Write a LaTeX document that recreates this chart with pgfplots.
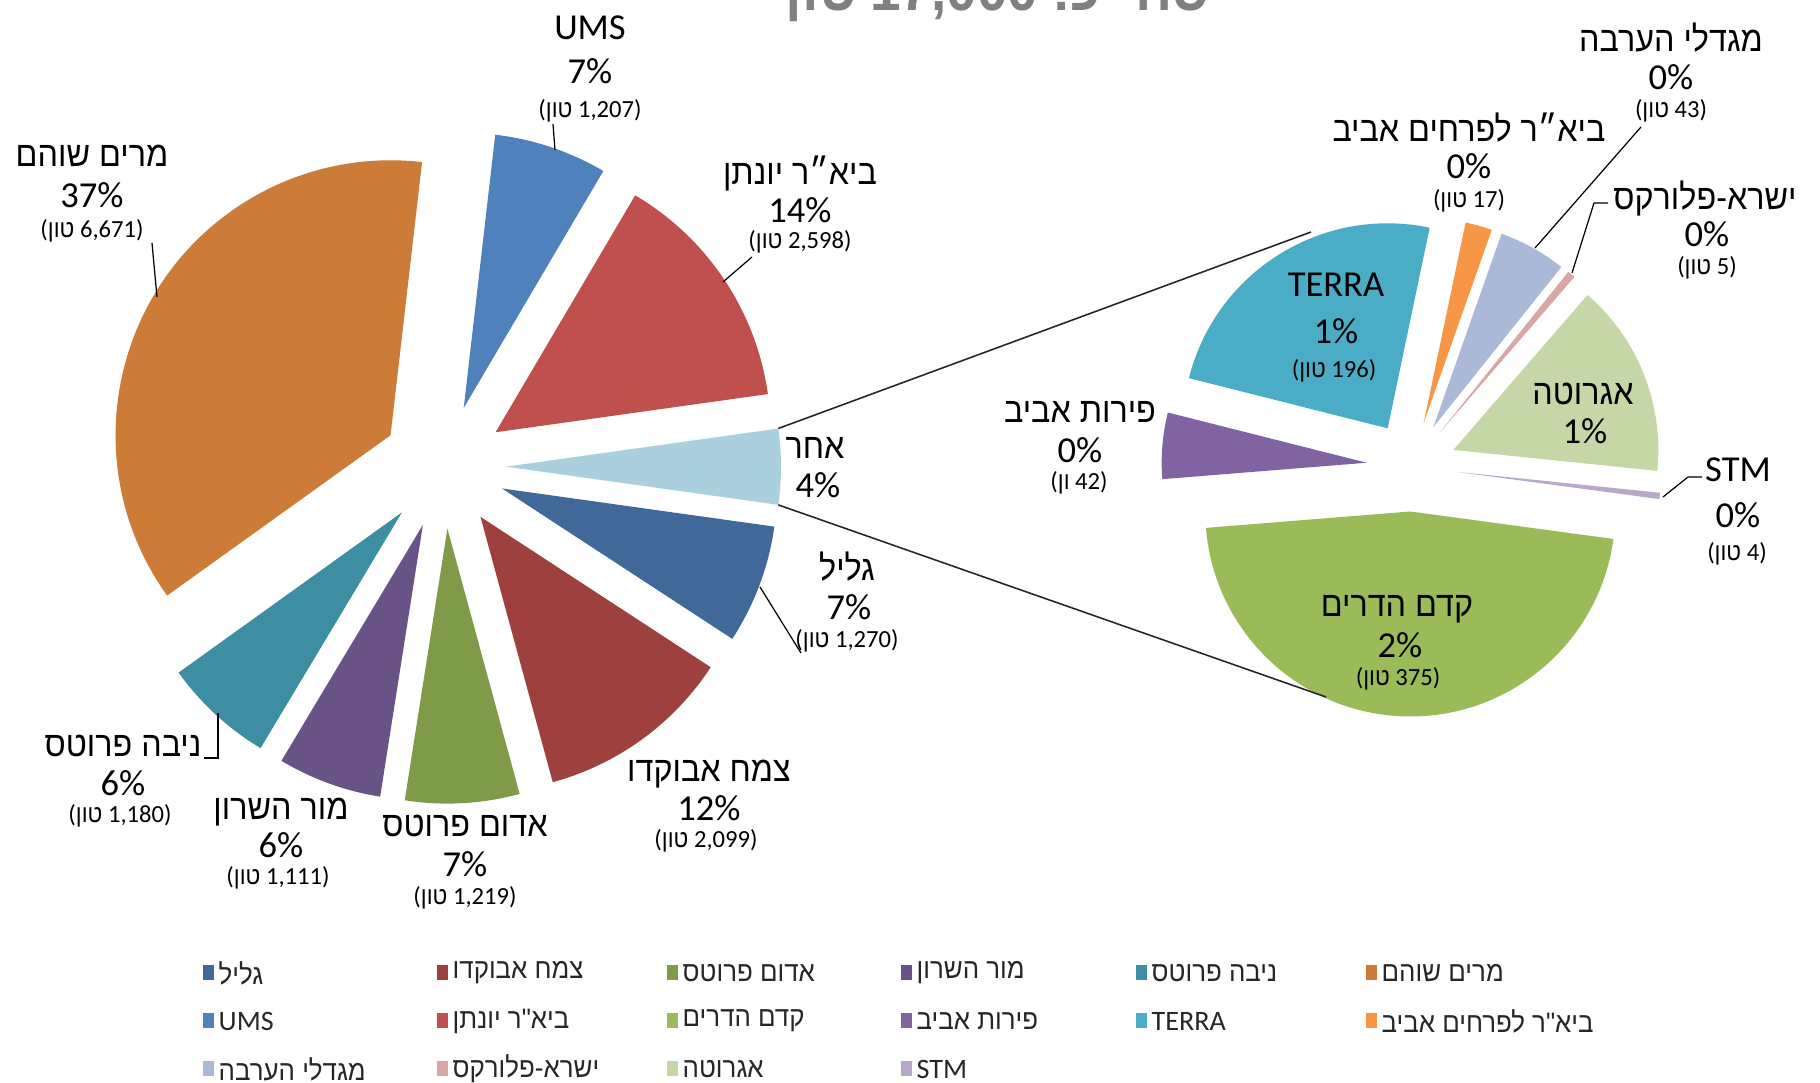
\documentclass[border=0pt]{standalone}
\usepackage{fontspec}
\setmainfont{Carlito}
\newfontfamily\heb[Script=Hebrew, FakeStretch=0.92]{Liberation Sans}
\TeXXeTstate=1
\usepackage{pgfplots}
\usepackage{pgfplotstable}
\pgfplotsset{compat=1.18}

\definecolor{cGalil}{HTML}{406899}
\definecolor{cTzemach}{HTML}{9E403D}
\definecolor{cAdom}{HTML}{7F9A48}
\definecolor{cMor}{HTML}{685286}
\definecolor{cNiva}{HTML}{3D8DA3}
\definecolor{cMerim}{HTML}{CC7B38}
\definecolor{cUMS}{HTML}{4F81BD}
\definecolor{cBiarY}{HTML}{C0504D}
\definecolor{cOther}{HTML}{AACFDD}
\definecolor{cKedem}{HTML}{9BBB59}
\definecolor{cPeirot}{HTML}{8064A2}
\definecolor{cTerra}{HTML}{4BACC6}
\definecolor{cBiarP}{HTML}{F79646}
\definecolor{cMigdal}{HTML}{AAB9D7}
\definecolor{cIsra}{HTML}{D9A6A5}
\definecolor{cAgro}{HTML}{C5D7A7}
\definecolor{cSTM}{HTML}{B8A9CA}
\definecolor{titlegray}{HTML}{808080}
\definecolor{legtext}{HTML}{262626}

\newcommand{\R}[1]{{\heb\beginR #1\endR}}
\newcommand{\namefont}{\fontsize{10}{12}\selectfont}
\newcommand{\pctfont}{\fontsize{10.4}{12}\selectfont}
\newcommand{\tonfont}{\fontsize{7}{8}\selectfont}
\newcommand{\legfont}{\fontsize{8}{9}\selectfont}

% main pie, clockwise from the lower edge of the "other" slice
\pgfplotstableread{
tons  colour
1270  cGalil
2099  cTzemach
1219  cAdom
1111  cMor
1180  cNiva
6671  cMerim
1207  cUMS
2598  cBiarY
805   cOther
}\mainpie
% secondary pie: breakdown of "other", clockwise
\pgfplotstableread{
tons colour
375  cKedem
42   cPeirot
196  cTerra
17   cBiarP
43   cMigdal
5    cIsra
123  cAgro
4    cSTM
}\otherpie

% #1 table, #2 cx, #3 cy, #4 radius, #5 explosion, #6 start angle expression
\newcommand{\drawpie}[6]{%
  \pgfplotstablegetrowsof{#1}\pgfmathtruncatemacro\nlast{\pgfplotsretval-1}%
  \def\pietot{0}%
  \pgfplotsforeachungrouped \i in {0,...,\nlast}{%
    \pgfplotstablegetelem{\i}{tons}\of{#1}%
    \pgfmathsetmacro\pietot{\pietot+\pgfplotsretval/1000}}%
  \pgfplotstablegetelem{\nlast}{tons}\of{#1}\pgfmathsetmacro\pielast{\pgfplotsretval/1000}%
  \pgfmathsetmacro\piecur{#6}%
  \pgfplotsforeachungrouped \i in {0,...,\nlast}{%
    \pgfplotstablegetelem{\i}{tons}\of{#1}%
    \pgfmathsetmacro\piespan{\pgfplotsretval/1000/\pietot*360}%
    \pgfplotstablegetelem{\i}{colour}\of{#1}%
    \edef\piecol{\pgfplotsretval}%
    \pgfmathsetmacro\pieend{\piecur-\piespan}%
    \pgfmathsetmacro\piemid{\piecur-\piespan/2}%
    \pgfmathsetmacro\pax{#2+#5*cos(\piemid)}%
    \pgfmathsetmacro\pay{#3-#5*sin(\piemid)}%
    \pgfmathsetmacro\pbx{\pax+#4*cos(\piecur)}%
    \pgfmathsetmacro\pby{\pay-#4*sin(\piecur)}%
    \path[fill=\piecol] (axis cs:\pax,\pay) -- (axis cs:\pbx,\pby)
       arc[start angle=\piecur, end angle=\pieend, radius=#4*0.1mm] -- cycle;%
    \let\piecur\pieend
  }%
}

% label line helpers: x, baseline y, text
\newcommand{\nm}[3]{\node[anchor=base, inner sep=0, font=\namefont] at (axis cs:#1,#2) {#3};}
\newcommand{\pc}[3]{\node[anchor=base, inner sep=0, font=\pctfont] at (axis cs:#1,#2) {#3};}
\newcommand{\tn}[3]{\node[anchor=base, inner sep=0, font=\tonfont] at (axis cs:#1,#2) {#3};}
\newcommand{\legitem}[4]{%
  \fill[#3] (axis cs:#1,#2-7.5) rectangle (axis cs:#1+11,#2+7.5);
  \node[anchor=west, inner sep=0, font=\legfont, text=legtext] at (axis cs:#1+15,#2) {#4};}

\begin{document}
\begin{tikzpicture}
\begin{axis}[
  at={(0,0)}, anchor=south west,
  width=18.2cm, height=10.83cm, scale only axis,
  xmin=0, xmax=1820, ymin=0, ymax=1083, y dir=reverse,
  hide axis, clip=false]

\pgfplotsextra{%
  \drawpie{\mainpie}{444}{466.7}{275}{62}{-\pielast/\pietot*180}%
  \drawpie{\otherpie}{1411.5}{466.5}{205}{45}{-7.7}%
}

% connector lines
\draw[black!85, line width=0.45pt] (axis cs:778.3,428.5) -- (axis cs:1311,232);
\draw[black!85, line width=0.45pt] (axis cs:778.3,504.9) -- (axis cs:1326,697);

% leader lines
\draw[black, line width=0.35pt] (axis cs:553,124) -- (axis cs:555,150);
\draw[black, line width=0.35pt] (axis cs:752,257) -- (axis cs:723,282);
\draw[black, line width=0.35pt] (axis cs:152,243) -- (axis cs:157,297);
\draw[black, line width=0.35pt] (axis cs:760,587) -- (axis cs:801,653);
\draw[black, line width=0.35pt] (axis cs:218,713) -- (axis cs:218,758) -- (axis cs:204,758);
\draw[black, line width=0.35pt] (axis cs:1641,127) -- (axis cs:1535,248);
\draw[black, line width=0.35pt] (axis cs:1608,203) -- (axis cs:1594,203) -- (axis cs:1572,273);
\draw[black, line width=0.35pt] (axis cs:1663,497) -- (axis cs:1688,477) -- (axis cs:1702,477);

% title (cut off at the top edge, as in the original)
\node[anchor=base, inner sep=0, text=titlegray, font=\fontsize{17}{20}\selectfont\bfseries] at (axis cs:998,11)
  {\R{\bfseries טון}\ {\heb\bfseries 17,000}\ {\heb\bfseries :}\R{\bfseries סה״כ}};

% main pie labels
\pc{590}{40}{UMS}
\pc{590}{84}{7\%}
\tn{590}{118}{(\R{טון} 1,207)}

\nm{800}{185}{\R{ביא״ר יונתן}}
\pc{800}{223}{14\%}
\tn{800}{249}{(\R{טון} 2,598)}

\nm{92}{167}{\R{מרים שוהם}}
\pc{92}{208}{37\%}
\tn{92}{238}{(\R{טון} 6,671)}

\nm{815}{459}{\R{אחר}}
\pc{818}{498}{4\%}

\nm{847}{581}{\R{גליל}}
\pc{849}{620}{7\%}
\tn{847}{648}{(\R{טון} 1,270)}

\nm{709}{782}{\R{צמח אבוקדו}}
\pc{709}{821}{12\%}
\tn{706}{848}{(\R{טון} 2,099)}

\nm{465}{837}{\R{אדום פרוטס}}
\pc{465}{877}{7\%}
\tn{465}{905}{(\R{טון} 1,219)}

\nm{281}{820}{\R{מור השרון}}
\pc{281}{858}{6\%}
\tn{278}{885}{(\R{טון} 1,111)}

\nm{123}{757}{\R{ניבה פרוטס}}
\pc{123}{796}{6\%}
\tn{120}{823}{(\R{טון} 1,180)}

% secondary pie labels
\pc{1336}{297}{TERRA}
\pc{1336}{344}{1\%}
\tn{1334}{378}{(\R{טון} 196)}

\nm{1469}{142}{\R{ביא״ר לפרחים אביב}}
\pc{1469}{179}{0\%}
\tn{1469}{208}{(\R{טון} 17)}

\nm{1671}{52}{\R{מגדלי הערבה}}
\pc{1671}{90}{0\%}
\tn{1671}{118}{(\R{טון} 43)}

\nm{1705}{210}{\R{ישרא-פלורקס}}
\pc{1707}{247}{0\%}
\tn{1707}{275}{(\R{טון} 5)}

\nm{1583}{405}{\R{אגרוטה}}
\pc{1585}{444}{1\%}

\pc{1738}{482}{STM}
\pc{1738}{528}{0\%}
\tn{1737}{561}{(\R{טון} 4)}

\nm{1080}{423}{\R{פירות אביב}}
\pc{1080}{463}{0\%}
\tn{1079}{490}{(\R{ון} 42)}

\nm{1397}{617}{\R{קדם הדרים}}
\pc{1400}{658}{2\%}
\tn{1398}{686}{(\R{טון} 375)}

% legend
\legitem{203}{973}{cGalil}{\R{גליל}}
\legitem{437}{973}{cTzemach}{\R{צמח אבוקדו}}
\legitem{667}{973}{cAdom}{\R{אדום פרוטס}}
\legitem{901}{973}{cMor}{\R{מור השרון}}
\legitem{1136}{973}{cNiva}{\R{ניבה פרוטס}}
\legitem{1366}{973}{cMerim}{\R{מרים שוהם}}
\legitem{203}{1021}{cUMS}{UMS}
\legitem{437}{1021}{cBiarY}{\R{ביא"ר יונתן}}
\legitem{667}{1021}{cKedem}{\R{קדם הדרים}}
\legitem{901}{1021}{cPeirot}{\R{פירות אביב}}
\legitem{1136}{1021}{cTerra}{TERRA}
\legitem{1366}{1021}{cBiarP}{\R{ביא"ר לפרחים אביב}}
\legitem{203}{1069}{cMigdal}{\R{מגדלי הערבה}}
\legitem{437}{1069}{cIsra}{\R{ישרא-פלורקס}}
\legitem{667}{1069}{cAgro}{\R{אגרוטה}}
\legitem{901}{1069}{cSTM}{STM}
\end{axis}
\pgfresetboundingbox
\path[use as bounding box] (0,0) rectangle (18.2cm,10.83cm);
\end{tikzpicture}
\end{document}
